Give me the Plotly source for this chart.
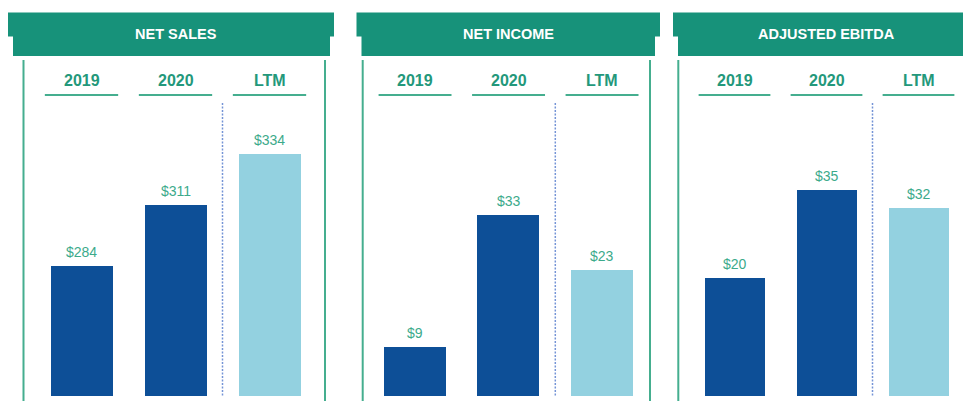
import plotly.graph_objects as go

# ---- data ----
periods = ["2019", "2020", "LTM"]
panel_titles = ["NET SALES", "NET INCOME", "ADJUSTED EBITDA"]
net_sales = [284, 311, 334]
net_income = [9, 33, 23]
adj_ebitda = [20, 35, 32]
series = [net_sales, net_income, adj_ebitda]

# ---- style ----
W, H = 963, 401
HEADER = "#17927A"
LINE_GREEN = "#45AE8F"
COL_GREEN = "#23987B"
VAL_GREEN = "#3CAA8B"
DARK = "#0D4F97"
LIGHT = "#93D1E0"
DOT = "#7594D6"
FONT = "Liberation Sans, Arial, sans-serif"


def px(x):
    return x / W


def py(y):
    return 1 - y / H


# panel geometry (pixels)
x_domains = [(34.5, 316.5), (368.3, 648.8), (688.5, 963)]
x_ranges = [[-0.5, 2.5], [-0.5, 2.5], [-0.5, -0.5 + (963 - 688.5) / 92.0]]
y_top, y_bot = 100, 396
y_ranges = [[225.7, 225.7 + 296 / 2.234], [0, 296 / 5.5], [0, 296 / 5.885]]
header_top = [(8, 334), (356.5, 660), (673, 975)]
header_bot = [(13, 330), (361.5, 655), (678, 975)]
vlines = [23.5, 325, 362.7, 650, 678.3]

fig = go.Figure()
shapes = []
annotations = []

for i, vals in enumerate(series):
    n = "" if i == 0 else str(i + 1)
    xa, ya = "x" + n, "y" + n
    xs = list(range(len(periods)))
    fig.add_trace(go.Bar(
        x=xs, y=vals, xaxis=xa, yaxis=ya,
        marker=dict(color=[DARK, DARK, LIGHT], line=dict(width=0)),
        width=0.66, showlegend=False, hoverinfo="skip",
    ))
    lay_x = "xaxis" + n
    lay_y = "yaxis" + n
    fig.update_layout(**{
        lay_x: dict(domain=[px(x_domains[i][0]), min(1, px(x_domains[i][1]))],
                    range=x_ranges[i], visible=False, fixedrange=True,
                    anchor=ya),
        lay_y: dict(domain=[py(y_bot), py(y_top)], range=y_ranges[i],
                    visible=False, fixedrange=True, anchor=xa),
    })
    # header band
    shapes.append(dict(type="rect", xref="paper", yref="paper",
                       x0=px(header_top[i][0]), x1=px(header_top[i][1]),
                       y0=py(36.5), y1=py(12.5), fillcolor=HEADER,
                       line=dict(width=0), layer="below"))
    shapes.append(dict(type="rect", xref="paper", yref="paper",
                       x0=px(header_bot[i][0]), x1=px(header_bot[i][1]),
                       y0=py(56), y1=py(36), fillcolor=HEADER,
                       line=dict(width=0), layer="below"))
    annotations.append(dict(text="<b>%s</b>" % panel_titles[i], xref=xa, yref="paper",
                            x=1, y=py(34), showarrow=False, yanchor="middle",
                            font=dict(family=FONT, size=14.5, color="white")))
    # column headers + underlines + value labels
    for j, p in enumerate(periods):
        annotations.append(dict(text="<b>%s</b>" % p, xref=xa, yref="paper",
                                x=j, y=py(80), showarrow=False, yanchor="middle",
                                font=dict(family=FONT, size=16, color=COL_GREEN)))
        shapes.append(dict(type="line", xref=xa, yref="paper",
                           x0=j - 0.39, x1=j + 0.39, y0=py(95), y1=py(95),
                           line=dict(color=LINE_GREEN, width=2)))
        annotations.append(dict(text="$%d" % vals[j], xref=xa, yref=ya,
                                x=j, y=vals[j], yshift=14, showarrow=False,
                                yanchor="middle",
                                font=dict(family=FONT, size=14, color=VAL_GREEN)))
    # dotted divider before LTM
    shapes.append(dict(type="line", xref=xa, yref="paper",
                       x0=1.5, x1=1.5, y0=py(103), y1=py(396),
                       line=dict(color=DOT, width=1.5, dash="2px,1.5px")))

for vx in vlines:
    shapes.append(dict(type="line", xref="paper", yref="paper",
                       x0=px(vx), x1=px(vx), y0=py(60), y1=0,
                       line=dict(color=LINE_GREEN, width=2)))

fig.update_layout(
    width=W, height=H, margin=dict(l=0, r=0, t=0, b=0),
    paper_bgcolor="white", plot_bgcolor="white",
    shapes=shapes, annotations=annotations, bargap=0,
    font=dict(family=FONT),
)

fig.write_html(
    "out.html",
    config={"displayModeBar": False},
    post_script="document.body.style.margin='0';document.body.style.overflow='hidden';",
)
